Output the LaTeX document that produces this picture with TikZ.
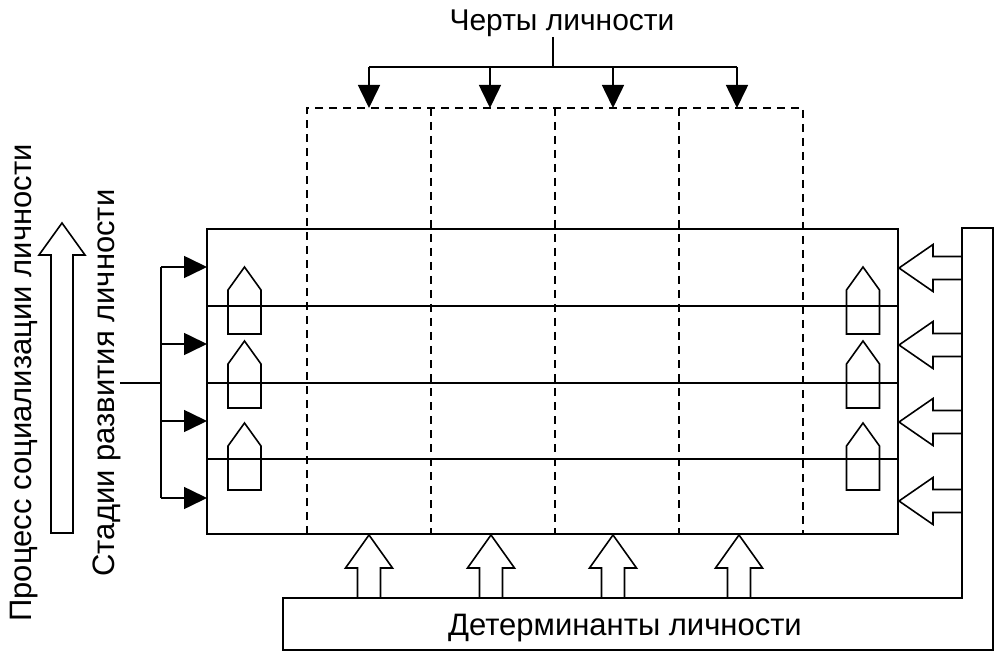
\documentclass[tikz,border=0pt]{standalone}
\usepackage{fontspec}
\setmainfont{Liberation Sans}
\usetikzlibrary{arrows.meta}

\begin{document}
\begin{tikzpicture}[
  x=1pt, y=-1pt,
  line width=1.6pt,
  >={Triangle[length=23pt, width=22pt]},
  caption/.style={font=\fontsize{30}{34}\selectfont, inner sep=0pt},
  sidecaption/.style={font=\fontsize{31}{35}\selectfont, inner sep=0pt},
  gridline/.style={line width=1.1pt, dash pattern=on 8pt off 6pt},
  hollow/.style={draw, line width=1.6pt, line join=miter},
  house/.pic={\draw[hollow] (-16.5,23) -- (0,0) -- (16.5,23) -- (16.5,67) -- (-16.5,67) -- cycle;},
  uparrow/.pic={\draw[hollow] (0,0) -- (23.5,33) -- (11.5,33) -- (11.5,63) -- (-11.5,63) -- (-11.5,33) -- (-23.5,33) -- cycle;},
  leftarrow/.pic={\draw[hollow] (0,0) -- (34,-23.5) -- (34,-11.5) -- (63,-11.5) -- (63,11.5) -- (34,11.5) -- (34,23.5) -- cycle;}
]
\useasboundingbox (0,0) rectangle (996,660);

% Labels
\node[caption, anchor=base] (traits) at (562,31) {Черты личности};
\node[sidecaption, anchor=base] (determinants) at (625,635) {Детерминанты личности};
\node[sidecaption, rotate=90, anchor=base] (socialization) at (31,383) {Процесс социализации личности};
\node[sidecaption, rotate=90, anchor=base] (stagelabel) at (114,383) {Стадии развития личности};

% Stages field
\node[draw, minimum width=691pt, minimum height=305pt, inner sep=0pt, outer sep=0pt] (field) at (552.5,381.5) {};
\draw[line width=2.8pt] (207,306) -- (898,306);
\draw (207,383) -- (898,383);
\draw (207,459) -- (898,459);

% Traits columns
\draw[gridline] (307,534) -- (307,108) -- (803,108) -- (803,534);
\foreach \x in {431,555,679}
  \draw[gridline] (\x,108) -- (\x,534);

% Traits arrows
\coordinate (stem) at (553,37);
\coordinate (hub) at (553,67);
\draw (stem) -- (hub);
\draw (369,67) -- (737,67);
\foreach \x [count=\i] in {369,490,613,737} {
  \coordinate (t\i) at (\x,67);
  \coordinate (c\i) at (\x,108);
  \draw[->] (t\i) -- (c\i);
}

% Stages arrows
\coordinate (tap) at (120,383);
\coordinate (split) at (161,383);
\draw (tap) -- (split);
\draw (161,267) -- (161,498);
\foreach \y [count=\i] in {267,344,421,498} {
  \coordinate (s\i) at (161,\y);
  \coordinate (f\i) at (207,\y);
  \draw[->] (s\i) -- (f\i);
}

% Houses
\foreach \y in {267,341,423} {
  \pic at (244.5,\y) {house};
  \pic at (863,\y) {house};
}

% Determinants frame
\draw (283,598) -- (962,598) -- (962,228) -- (993,228) -- (993,650) -- (283,650) -- cycle;
\foreach \x in {369,491,613,739}
  \pic at (\x,535) {uparrow};
\foreach \y in {268,345,422,501}
  \pic at (899,\y) {leftarrow};

% Socialization arrow
\draw[hollow] (62,223) -- (85,255) -- (73,255) -- (73,533) -- (51,533) -- (51,255) -- (39,255) -- cycle;

\end{tikzpicture}
\end{document}
